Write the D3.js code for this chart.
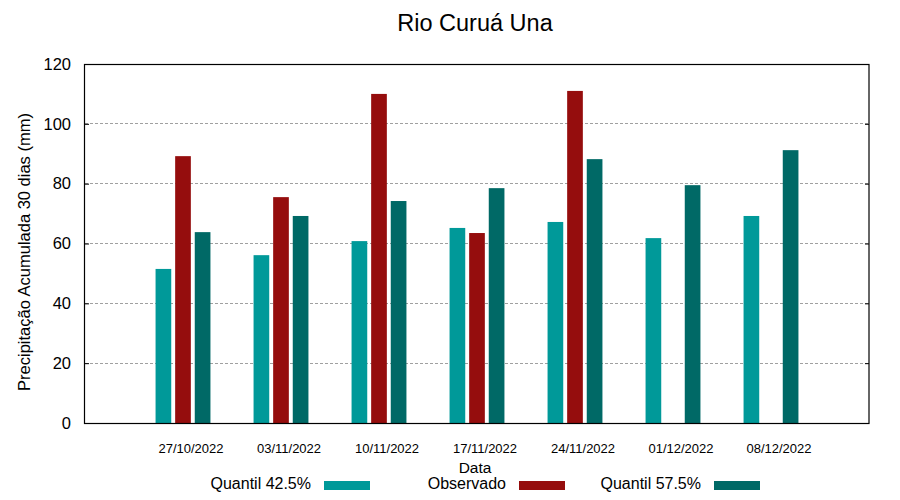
<!DOCTYPE html>
<html><head><meta charset="utf-8">
<script src="https://cdn.jsdelivr.net/npm/d3@7"></script>
<style>body{margin:0;background:#fff}svg{display:block;font-family:"Liberation Sans",Arial,sans-serif}</style>
</head><body><svg id="c" width="900" height="500"></svg>
<script>
const dates = ["27/10/2022","03/11/2022","10/11/2022","17/11/2022","24/11/2022","01/12/2022","08/12/2022"];
const q425 = [51.5, 56.1, 60.8, 65.2, 67.2, 61.8, 69.2];
const observado = [89.2, 75.5, 110.0, 63.5, 111.0, null, null];
const q575 = [63.8, 69.2, 74.2, 78.5, 88.2, 79.5, 91.2];
const yTicks = [0, 20, 40, 60, 80, 100, 120];
const seriesNames = ["Quantil 42.5%", "Observado", "Quantil 57.5%"];
const colors = ["#009999", "#950d0d", "#006966"];

const svg = d3.select("#c");
const L = 85, R = 869, T = 64, B = 423;
const x = d3.scaleLinear().domain([-1, dates.length]).range([L, R]);
const y = d3.scaleLinear().domain([0, 120]).range([B, T]);

// grid
svg.append("g").selectAll("line").data(yTicks.filter(d => d > 0 && d < 120)).join("line")
  .attr("x1", L).attr("x2", R).attr("y1", d => y(d)).attr("y2", d => y(d))
  .attr("stroke", "#a0a0a0").attr("stroke-width", 1).attr("stroke-dasharray", "2.5,2.5")
  .attr("shape-rendering", "crispEdges");

// bars
const series = [q425, observado, q575];
const offs = [-0.2, 0, 0.2];
const bw = 0.16;
series.forEach((s, k) => {
  svg.append("g").selectAll("rect").data(s.map((v, i) => ({v, i})).filter(d => d.v != null)).join("rect")
    .attr("x", d => x(d.i + offs[k] - bw / 2))
    .attr("width", d => x(d.i + offs[k] + bw / 2) - x(d.i + offs[k] - bw / 2))
    .attr("y", d => y(d.v)).attr("height", d => y(0) - y(d.v))
    .attr("fill", colors[k]);
});

// frame
svg.append("rect").attr("x", L - 0.5).attr("y", T + 0.5).attr("width", R - L + 0.5).attr("height", B - T)
  .attr("fill", "none").attr("stroke", "#000").attr("stroke-width", 1.2);

// y axis ticks/labels
const yAxisL = d3.axisLeft(y).tickValues(yTicks).tickSize(-4).tickPadding(14).tickFormat(d3.format("d"));
const gy = svg.append("g").attr("transform", `translate(${L},0)`).call(yAxisL);
gy.select(".domain").remove();
gy.selectAll("text").attr("font-size", 16.5).attr("font-family", "Liberation Sans, Arial, sans-serif").attr("fill", "#000");
gy.selectAll(".tick line").filter(d => d === 0 || d === 120).remove();
const yAxisR = d3.axisRight(y).tickValues(yTicks.filter(d => d > 0 && d < 120)).tickSize(-4).tickFormat("");
const gyr = svg.append("g").attr("transform", `translate(${R},0)`).call(yAxisR);
gyr.select(".domain").remove();

// x axis labels
const xAxis = d3.axisBottom(x).tickValues(d3.range(dates.length)).tickSize(0).tickPadding(21).tickFormat(i => dates[i]);
const gx = svg.append("g").attr("transform", `translate(7.5,${B})`).call(xAxis);
gx.select(".domain").remove();
gx.selectAll("text").attr("font-size", 13).attr("font-family", "Liberation Sans, Arial, sans-serif").attr("fill", "#000");

// title
svg.append("text").attr("x", 475).attr("y", 31).attr("text-anchor", "middle").attr("font-size", 23.5).text("Rio Curuá Una");
// axis titles
svg.append("text").attr("x", 475).attr("y", 473).attr("text-anchor", "middle").attr("font-size", 15.5).text("Data");
svg.append("text").attr("transform", "translate(30,252) rotate(-90)").attr("text-anchor", "middle").attr("font-size", 16.5)
  .text("Precipitação Acumulada 30 dias (mm)");

// legend
const legX = [311, 506, 701];
seriesNames.forEach((n, k) => {
  svg.append("text").attr("x", legX[k]).attr("y", 489).attr("text-anchor", "end").attr("font-size", 16).text(n);
  svg.append("rect").attr("x", legX[k] + 13).attr("y", 481).attr("width", 46).attr("height", 9).attr("fill", colors[k]);
});
</script></body></html>
